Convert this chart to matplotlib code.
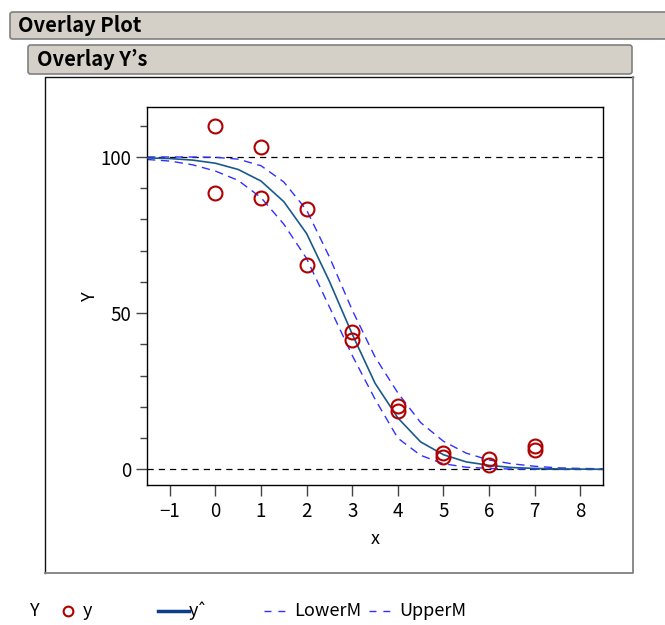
import matplotlib.pyplot as plt
from matplotlib.patches import FancyBboxPatch
from matplotlib.lines import Line2D

# observed points
x_obs = [0, 0, 1, 1, 2, 2, 3, 3, 4, 4, 5, 5, 6, 6, 7, 7]
y_obs = [109.8, 88.6, 103.2, 87.0, 83.5, 65.4, 44.1, 41.3, 20.3, 18.7, 5.4, 4.1, 3.2, 1.3, 7.6, 6.3]

# fitted curve and bands
x_fit = [-1.5, -1, -0.5, 0, 0.5, 1, 1.5, 2, 2.5, 3, 3.5, 4, 4.5, 5, 5.5, 6, 6.5, 7, 7.5, 8, 8.5]
y_hat = [99.7, 99.5, 99.0, 98.0, 96.0, 92.3, 85.7, 75.5, 60.2, 43.3, 27.6, 16.5, 8.8, 4.7, 2.4,
         1.3, 0.6, 0.3, 0.15, 0.07, 0.04]
upper = [100, 100, 100, 99.9, 99.3, 97.2, 92.0, 83.0, 68.0, 51.0, 36.0, 24.5, 15.0, 9.0, 5.2,
         3.0, 1.8, 1.0, 0.5, 0.3, 0.2]
lower = [99.2, 98.7, 97.5, 95.5, 92.5, 87.0, 78.5, 67.5, 52.0, 36.5, 22.5, 10.0, 4.5, 1.8, 0.7,
         0.3, 0.1, 0.05, 0, 0, 0]

x_ticks = [-1, 0, 1, 2, 3, 4, 5, 6, 7, 8]
y_ticks = [0, 50, 100]
ref_lines = [0, 100]

plt.rcParams['font.family'] = ['Noto Sans CJK JP', 'DejaVu Sans']

W, H = 665, 625
fig = plt.figure(figsize=(W / 100, H / 100), dpi=100)


def fx(px):
    return px / W


def fy(py):
    return 1 - py / H


# header bars
outer = FancyBboxPatch((fx(10), fy(39)), fx(700), 27 / H, boxstyle="round,pad=0,rounding_size=0.004",
                       transform=fig.transFigure, facecolor="#d4d0c8", edgecolor="#808080", lw=1.2)
inner = FancyBboxPatch((fx(28), fy(74)), fx(604), 29 / H, boxstyle="round,pad=0,rounding_size=0.004",
                       transform=fig.transFigure, facecolor="#d4d0c8", edgecolor="#808080", lw=1.2)
fig.patches.extend([outer, inner])
fig.text(fx(18), fy(25), "Overlay Plot", fontsize=14.5, fontweight="bold", va="center", ha="left")
fig.text(fx(37), fy(60), "Overlay Y\u2019s", fontsize=14.5, fontweight="bold", va="center", ha="left")

# frame around the plot: dark top/left, grey bottom/right
fig.add_artist(Line2D([fx(45), fx(45), fx(633)], [fy(573), fy(77), fy(77)], color="#111111", lw=1.0,
                      transform=fig.transFigure))
fig.add_artist(Line2D([fx(45), fx(633), fx(633)], [fy(573), fy(573), fy(77)], color="#808080", lw=1.3,
                      transform=fig.transFigure))

ax = fig.add_axes([fx(147), fy(485), fx(603 - 147), (485 - 107) / H])

for r in ref_lines:
    ax.axhline(r, color="black", ls=(0, (5, 4)), lw=0.9, zorder=1)

ax.plot(x_fit, upper, color="#3030ff", ls=(0, (6, 4)), lw=1.0, zorder=2)
ax.plot(x_fit, lower, color="#3030ff", ls=(0, (6, 4)), lw=1.0, zorder=2)
ax.plot(x_fit, y_hat, color="#1a5a8a", lw=1.2, zorder=3)
ax.plot(x_obs, y_obs, ls="none", marker="o", ms=10, mfc="none", mec="#b00000", mew=1.5, zorder=4)

ax.set_xlim(-1.5, 8.5)
ax.set_ylim(-5, 116)
ax.set_xticks(x_ticks)
ax.set_yticks(y_ticks)
ax.set_yticks(range(10, 111, 10), minor=True)
ax.tick_params(axis="both", direction="out", length=8, width=1, labelsize=13.5, color="#444444")
ax.tick_params(axis="y", which="minor", length=5, width=1, color="#444444")
ax.set_xlabel("x", fontsize=13, labelpad=6)
ax.set_ylabel("Y", fontsize=13, labelpad=1)
for s in ax.spines.values():
    s.set_linewidth(1.0)

# legend row
ly = fy(611)
fig.text(fx(30), ly, "Y", fontsize=13, va="center")
fig.add_artist(Line2D([fx(68)], [ly], marker="o", ms=7, mfc="none", mec="#b00000", mew=1.5,
                      transform=fig.transFigure))
fig.text(fx(83), ly, "y", fontsize=13, va="center")
fig.add_artist(Line2D([fx(158), fx(189)], [ly, ly], color="#0a3d8a", lw=2.5, transform=fig.transFigure))
fig.text(fx(189), ly, "y\u02c6", fontsize=13, va="center")
fig.add_artist(Line2D([fx(264), fx(286)], [ly, ly], color="#3030ff", lw=1.0, ls=(0, (5, 5)),
                      transform=fig.transFigure))
fig.text(fx(294), ly, "LowerM", fontsize=13, va="center")
fig.add_artist(Line2D([fx(369), fx(391)], [ly, ly], color="#3030ff", lw=1.0, ls=(0, (5, 5)),
                      transform=fig.transFigure))
fig.text(fx(399), ly, "UpperM", fontsize=13, va="center")

fig.savefig("out.png", dpi=100)
